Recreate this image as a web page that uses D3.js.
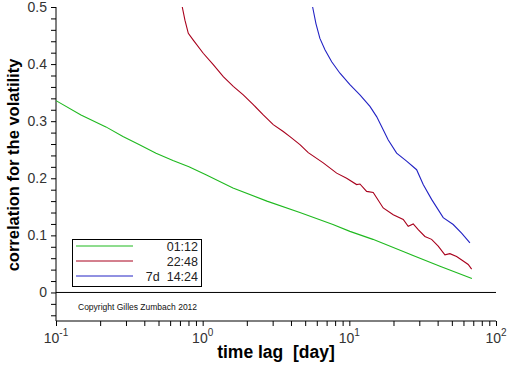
<!DOCTYPE html>
<html lang="en">
<head>
    <meta charset="UTF-8">
    <title>Volatility correlation</title>
    <script src="https://d3js.org/d3.v7.min.js"></script>
    <style>
        body { margin: 0; background: #fff; }
        svg { display: block; font-family: "Liberation Sans", Arial, sans-serif; }
        .tick-label { font-size: 14px; fill: #333; }
        .axis-title { font-weight: bold; fill: #000; }
    </style>
</head>
<body>
<div id="chart"></div>
<script>
    // time lag in days, correlation values
    const greenLag = [0.1, 0.148, 0.219, 0.286, 0.368, 0.481, 0.627, 0.806, 1.053, 1.609, 2.742, 4.60, 7.73, 10.09, 14.48, 24.7, 41.5, 68.5];
    const greenVal = [0.336, 0.311, 0.290, 0.273, 0.259, 0.244, 0.231, 0.220, 0.206, 0.183, 0.160, 0.140, 0.119, 0.107, 0.093, 0.069, 0.046, 0.0245];

    const redLag = [0.726, 0.757, 0.798, 0.863, 1.009, 1.181, 1.382, 1.617, 1.891, 2.213, 2.589, 3.029, 3.543, 3.937, 4.606, 5.246, 6.640, 8.194, 9.585, 11.21, 11.81, 13.12, 14.55, 15.35, 17.02, 19.92, 23.31, 25.20, 27.27, 29.49, 32.75, 36.39, 40.36, 44.84, 48.50, 53.88, 59.75, 64.65, 68.2];
    const redVal = [0.5, 0.477, 0.454, 0.442, 0.419, 0.399, 0.378, 0.361, 0.346, 0.329, 0.311, 0.294, 0.282, 0.273, 0.259, 0.245, 0.227, 0.209, 0.200, 0.189, 0.190, 0.177, 0.175, 0.166, 0.148, 0.136, 0.128, 0.116, 0.120, 0.110, 0.098, 0.093, 0.081, 0.066, 0.068, 0.063, 0.055, 0.049, 0.041];

    const blueLag = [5.62, 5.92, 6.30, 6.82, 7.58, 8.63, 10.09, 11.81, 13.82, 15.35, 17.02, 18.42, 21.01, 24.58, 28.76, 31.89, 36.39, 43.66, 51.08, 58.27, 66.40];
    const blueVal = [0.5, 0.471, 0.445, 0.425, 0.404, 0.384, 0.364, 0.346, 0.326, 0.308, 0.285, 0.267, 0.244, 0.230, 0.215, 0.189, 0.163, 0.131, 0.119, 0.104, 0.087];

    const seriesNames = ["01:12", "22:48", "7d  14:24"];
    const yTicks = [0, 0.1, 0.2, 0.3, 0.4, 0.5];
    const xTickExp = [-1, 0, 1, 2];

    const width = 512, height = 366;
    const mLeft = 56, mRight = 496, mTop = 7, mBottom = 321;

    const svg = d3.select("#chart").append("svg")
        .attr("width", width)
        .attr("height", height);

    const x = d3.scaleLog().domain([0.1, 100]).range([mLeft, mRight]);
    const y = d3.scaleLinear().domain([-0.05, 0.5]).range([mBottom, mTop]);

    // y axis with minor ticks every 0.02
    const yAxis = d3.axisLeft(y)
        .tickValues(d3.range(-0.04, 0.501, 0.02))
        .tickSize(5)
        .tickFormat("");
    svg.append("g")
        .attr("transform", `translate(${mLeft},0)`)
        .call(yAxis)
        .call(g => g.select(".domain").attr("d", `M0,${mTop}V${mBottom}`))
        .call(g => g.selectAll("line").attr("stroke", "#000"));

    svg.selectAll(".ylab")
        .data(yTicks)
        .join("text")
        .attr("class", "tick-label")
        .attr("x", mLeft - 9)
        .attr("y", d => y(d))
        .attr("dy", "0.36em")
        .attr("text-anchor", "end")
        .text(d => d === 0 ? "0" : d3.format(".1f")(d));

    // x axis, log ticks pointing down
    const xMinor = [];
    xTickExp.slice(0, -1).forEach(e => {
        for (let k = 1; k < 10; k++) xMinor.push(k * Math.pow(10, e));
    });
    xMinor.push(100);
    const xAxis = d3.axisBottom(x)
        .tickValues(xMinor)
        .tickSize(5)
        .tickFormat("");
    svg.append("g")
        .attr("transform", `translate(0,${mBottom})`)
        .call(xAxis)
        .call(g => g.select(".domain").attr("d", `M${mLeft},0H${mRight}`))
        .call(g => g.selectAll("line").attr("stroke", "#000"));

    const xl = svg.selectAll(".xlab")
        .data(xTickExp)
        .join("text")
        .attr("class", "tick-label")
        .attr("x", d => x(Math.pow(10, d)))
        .attr("y", 343)
        .attr("text-anchor", "middle");
    xl.append("tspan").text("10");
    xl.append("tspan")
        .attr("dy", -7)
        .attr("font-size", 10)
        .text(d => d);

    // zero line
    svg.append("line")
        .attr("x1", mLeft).attr("x2", mRight)
        .attr("y1", y(0)).attr("y2", y(0))
        .attr("stroke", "#000");

    // curves
    const line = d3.line()
        .x(d => x(d[0]))
        .y(d => y(d[1]));
    const series = [
        { lag: greenLag, val: greenVal, color: "#1fb91f" },
        { lag: redLag, val: redVal, color: "#a8001c" },
        { lag: blueLag, val: blueVal, color: "#2222c4" }
    ];
    svg.selectAll(".curve")
        .data(series)
        .join("path")
        .attr("class", "curve")
        .attr("fill", "none")
        .attr("stroke", d => d.color)
        .attr("stroke-width", 1.1)
        .attr("d", d => line(d.lag.map((t, i) => [t, d.val[i]])));

    // legend
    const legend = svg.append("g");
    legend.append("rect")
        .attr("x", 72.5).attr("y", 239.5)
        .attr("width", 129).attr("height", 47)
        .attr("fill", "#fff")
        .attr("stroke", "#000");
    series.forEach((s, i) => {
        const ly = 246 + i * 15;
        legend.append("line")
            .attr("x1", 76).attr("x2", 133)
            .attr("y1", ly).attr("y2", ly)
            .attr("stroke", s.color);
        legend.append("text")
            .attr("x", 198).attr("y", ly)
            .attr("dy", "0.36em")
            .attr("text-anchor", "end")
            .attr("font-size", 12.5)
            .attr("fill", "#222")
            .style("white-space", "pre")
            .text(seriesNames[i]);
    });

    svg.append("text")
        .attr("x", 78).attr("y", 310)
        .attr("font-size", 8.5)
        .attr("fill", "#111")
        .text("Copyright Gilles Zumbach 2012");

    // axis titles
    svg.append("text")
        .attr("class", "axis-title")
        .attr("font-size", 16.5)
        .attr("transform", "translate(19,165) rotate(-90)")
        .attr("text-anchor", "middle")
        .text("correlation for the volatility");

    svg.append("text")
        .attr("class", "axis-title")
        .attr("font-size", 17.5)
        .attr("x", 276).attr("y", 358)
        .attr("text-anchor", "middle")
        .style("white-space", "pre")
        .text("time lag  [day]");
</script>
</body>
</html>
